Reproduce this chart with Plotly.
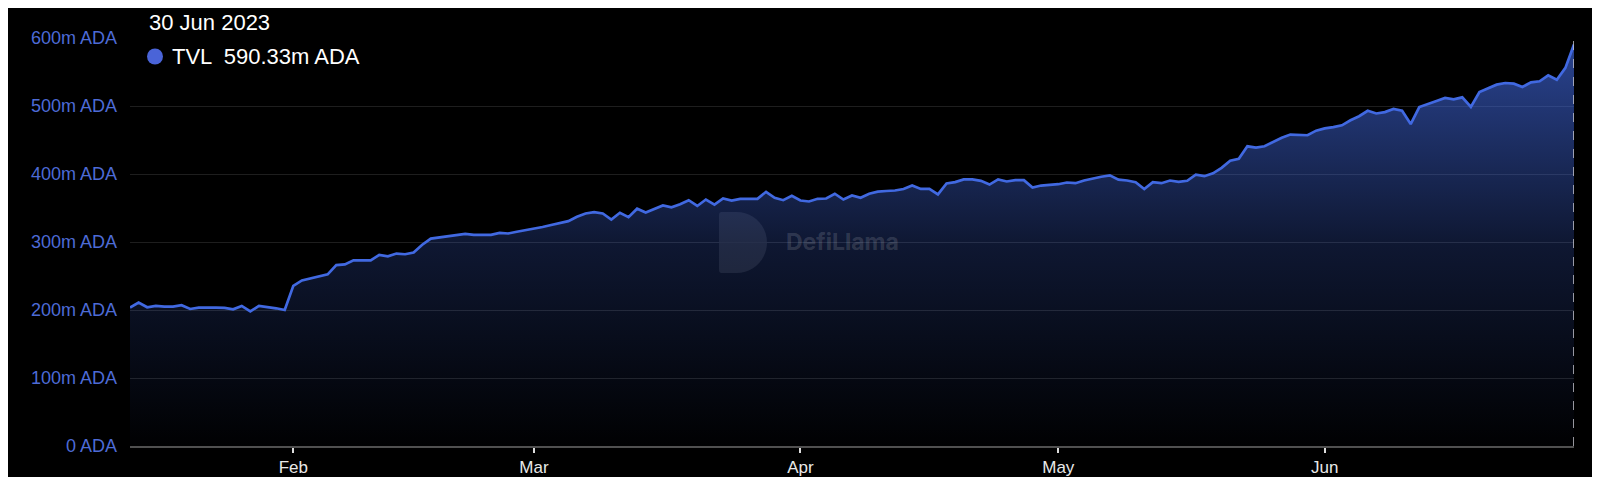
import pandas as pd
import plotly.graph_objects as go

# ---- data (TVL in millions of ADA, daily, 13 Jan 2023 -> 30 Jun 2023) ----
start_date = "2023-01-13"
jan_tvl = [203.5, 211, 204, 206, 205, 205, 207, 201.5, 203.5, 204, 203.5, 203, 201, 206, 198, 206, 204.5, 202.5, 200]
feb_tvl = [235.6, 243.5, 246.5, 250.5, 252.5, 266, 267, 273, 273, 273, 281, 279, 283, 282, 284.5, 296, 305, 306.5,
           308.5, 310, 312, 310.5, 311, 310.5, 313.5, 312.5, 315, 317]
mar_tvl = [319.4, 322, 325, 328, 330.6, 337, 342, 344, 342, 333, 343, 336.5, 349, 343.4, 348, 353.7, 351, 355.6,
           361.5, 353, 362.5, 355, 364, 361, 363.5, 363.5, 363.5, 373.8, 365, 361.5, 368]
apr_tvl = [361, 359.6, 363.5, 364, 371, 362.5, 368.4, 365, 371, 374, 375, 375.7, 378, 383, 378, 378, 370, 386, 388,
           392, 392, 390, 384.5, 392, 389, 391, 391, 380, 383, 383.6]
may_tvl = [385, 387.5, 386.5, 390.5, 393.4, 396, 398, 391.7, 390.4, 388, 378, 388, 386.5, 390.4, 388.5, 390, 399,
           396.8, 401, 409, 419.6, 422.5, 440.7, 438.7, 440.7, 447, 453.4, 458, 458, 457, 463.7]
jun_tvl = [467, 469, 471.6, 479, 485, 493, 489, 491, 495.6, 493, 473.5, 498.5, 503.4, 507.4, 511.8, 509.8, 512.7,
           498.5, 520.6, 525.5, 531.4, 533.8, 532.8, 528, 534.8, 536.3, 545, 538.7, 556, 590.33]

series_name = "TVL"
unit = "m ADA"
y_tick_values = [0, 100, 200, 300, 400, 500, 600]
y_tick_labels = ["0 ADA", "100m ADA", "200m ADA", "300m ADA", "400m ADA", "500m ADA", "600m ADA"]
watermark_text = "DefiLlama"

tvl = jan_tvl + feb_tvl + mar_tvl + apr_tvl + may_tvl + jun_tvl
dates = pd.date_range(start_date, periods=len(tvl), freq="D")

# ---- layout geometry (pixels); page body has an 8px margin ----
OFF = 8
W, H = 1600 - OFF, 477 - OFF
ML, MR, MT, MB = 122, 26, 30, 31
PW, PH = W - ML - MR, H - MT - MB


def px(x_page):
    return (x_page - OFF - ML) / PW


def py(y_page):
    return (H - MB - (y_page - OFF)) / PH


LINE = "#4169e1"
TICK_BLUE = "#4d6bd6"
FONT = "Liberation Sans, Arial, Helvetica, sans-serif"

fig = go.Figure()
fig.add_trace(go.Scatter(
    x=dates, y=tvl, mode="lines", name=series_name,
    line=dict(color=LINE, width=2.7),
    fill="tozeroy",
    fillgradient=dict(type="vertical",
                      colorscale=[[0, "rgba(65,105,225,0.01)"], [0.5, "rgba(65,105,225,0.22)"],
                                  [1, "rgba(65,105,225,0.64)"]],
                      start=0, stop=max(tvl)),
    hoverinfo="skip", showlegend=False,
))

shapes = []
# hover crosshair at the last point
shapes.append(dict(type="line", xref="x", yref="y", x0=dates[-1], x1=dates[-1], y0=0, y1=y_tick_values[-1],
                   line=dict(color="#c8c8d0", width=1.5, dash="dash"), layer="above"))
# tooltip dot
shapes.append(dict(type="circle", xref="paper", yref="paper", xsizemode="pixel", ysizemode="pixel",
                   xanchor=px(155), yanchor=py(56.5), x0=-8, x1=8, y0=-8, y1=8,
                   fillcolor="#4a64d8", line=dict(width=0), layer="above"))
# watermark "D" logo
l, r, t, b = 719, 767, 212, 273
rad = (b - t) / 2
cx, cy = r - rad, (t + b) / 2
k = 0.5523 * rad
pts = [("M", [(l + 6, t)]), ("L", [(cx, t)]),
       ("C", [(cx + k, t), (r, cy - k), (r, cy)]),
       ("C", [(r, cy + k), (cx + k, b), (cx, b)]),
       ("L", [(l + 6, b)]), ("C", [(l, b), (l, b), (l, b - 6)]),
       ("L", [(l, t + 6)]), ("C", [(l, t), (l, t), (l + 6, t)])]
path = " ".join(cmd + " " + " ".join(f"{px(x):.5f},{py(y):.5f}" for x, y in p) for cmd, p in pts) + " Z"
shapes.append(dict(type="path", xref="paper", yref="paper", path=path,
                   fillcolor="rgba(255,255,255,0.09)", line=dict(width=0), layer="below"))

annotations = [
    dict(xref="paper", yref="paper", x=px(147), y=py(23), xanchor="left", yanchor="middle",
         text=dates[-1].strftime("%d %b %Y"), showarrow=False,
         font=dict(family=FONT, size=22, color="#ffffff")),
    dict(xref="paper", yref="paper", x=px(170), y=py(56.5), xanchor="left", yanchor="middle",
         text=f"{series_name}  {tvl[-1]:.2f}{unit}", showarrow=False,
         font=dict(family=FONT, size=22, color="#ffffff")),
    dict(xref="paper", yref="paper", x=px(784), y=py(242), xanchor="left", yanchor="middle",
         text=f"<b>{watermark_text}</b>", showarrow=False,
         font=dict(family="Inter, Lato, sans-serif", size=23, color="rgba(255,255,255,0.15)")),
]

fig.update_layout(
    width=W, height=H, autosize=False,
    margin=dict(l=ML, r=MR, t=MT, b=MB, pad=0, autoexpand=False),
    paper_bgcolor="#000000", plot_bgcolor="#000000",
    font=dict(family=FONT, color="#ffffff"),
    shapes=shapes, annotations=annotations,
    showlegend=False,
    xaxis=dict(
        type="date", range=[dates[0], dates[-1]],
        dtick="M1", tick0="2023-02-01", tickformat="%b",
        showgrid=False, zeroline=False, automargin=False,
        showline=True, linecolor="#505050", linewidth=1.5,
        ticks="outside", ticklen=5, tickwidth=1.5, tickcolor="#dddddd",
        ticklabelstandoff=0,
        tickfont=dict(family=FONT, size=17, color="#e8e8e8"),
        fixedrange=True,
    ),
    yaxis=dict(
        range=[y_tick_values[0], y_tick_values[-1]],
        tickmode="array", tickvals=y_tick_values, ticktext=y_tick_labels,
        showgrid=True, gridcolor="#1e1e1e", gridwidth=1,
        zeroline=False, showline=False, ticks="", automargin=False,
        ticklabelstandoff=12,
        tickfont=dict(family=FONT, size=18, color=TICK_BLUE),
        fixedrange=True,
    ),
)

fig.write_html("out.html")
